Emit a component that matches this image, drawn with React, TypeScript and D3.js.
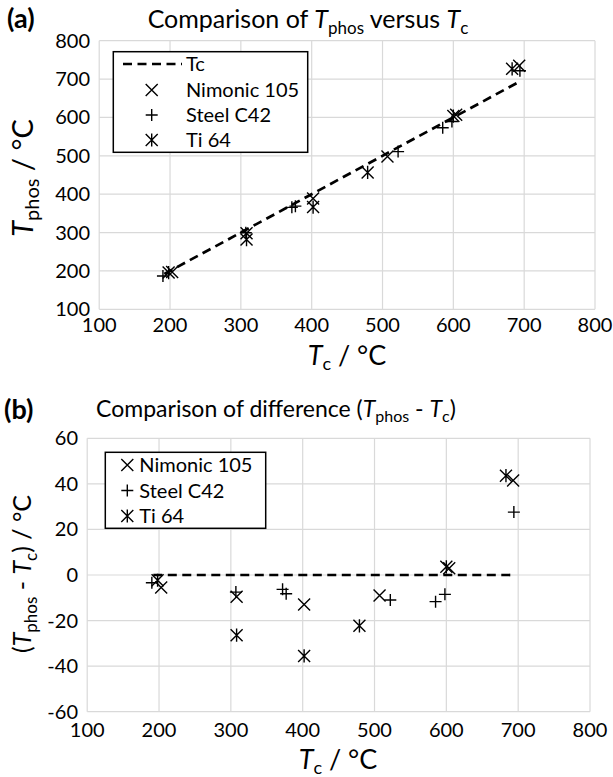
import React from "react";
import * as d3 from "d3";

// ---- data ----
const nimTc = [203, 308, 402, 507, 604, 693];
const nimTphos = [197.5, 298.5, 389, 498, 607, 734.5];
const steelTc = [190, 307, 372, 377, 522, 585, 598, 694];
const steelTphos = [186.6, 299.5, 365.7, 368.8, 511, 573.3, 589.5, 721.6];
const tiTc = [198, 308, 402, 479, 600, 683];
const tiTphos = [195.7, 281.6, 366.5, 456.7, 603.6, 726.6];
const tcLine = [192, 696];
const xTicks = [100, 200, 300, 400, 500, 600, 700, 800];
const yTicksA = [100, 200, 300, 400, 500, 600, 700, 800];
const yTicksB = [-60, -40, -20, 0, 20, 40, 60];
const seriesNames = ["Nimonic 105", "Steel C42", "Ti 64"];

type Pt = { x: number; y: number };
const FONT = "Lato, 'Open Sans', sans-serif";

function Marker({ kind, x, y, s = 6 }: { kind: number; x: number; y: number; s?: number }) {
  const parts: string[] = [];
  if (kind === 0 || kind === 2) {
    parts.push(`M${x - s},${y - s}L${x + s},${y + s}M${x - s},${y + s}L${x + s},${y - s}`);
  }
  if (kind === 1) {
    parts.push(`M${x - s},${y}L${x + s},${y}M${x},${y - s}L${x},${y + s}`);
  }
  if (kind === 2) {
    parts.push(`M${x},${y - s * 1.1}L${x},${y + s * 1.1}`);
  }
  return <path d={parts.join("")} stroke="#000" strokeWidth={1.4} fill="none" />;
}

function Panel({
  x0, x1, y0, y1, yDomain, yTicks, data, line, yLabelX, xLabelY,
}: {
  x0: number; x1: number; y0: number; y1: number; yDomain: [number, number]; yTicks: number[];
  data: Pt[][]; line: Pt[]; yLabelX: number; xLabelY: number;
}) {
  const x = d3.scaleLinear().domain([100, 800]).range([x0, x1]);
  const y = d3.scaleLinear().domain(yDomain).range([y1, y0]);
  const lineGen = d3.line<Pt>().x((d) => x(d.x)).y((d) => y(d.y));
  return (
    <g>
      {xTicks.map((t) => (
        <line key={"gx" + t} x1={x(t)} x2={x(t)} y1={y0} y2={y1} stroke="#d9d9d9" strokeWidth={1.2} />
      ))}
      {yTicks.map((t) => (
        <line key={"gy" + t} x1={x0} x2={x1} y1={y(t)} y2={y(t)} stroke="#d9d9d9" strokeWidth={1.2} />
      ))}
      {xTicks.map((t) => (
        <text key={"tx" + t} x={x(t)} y={xLabelY} textAnchor="middle" fontSize={20} fill="#000">{t}</text>
      ))}
      {yTicks.map((t) => (
        <text key={"ty" + t} x={yLabelX} y={y(t)} dy="0.35em" textAnchor="end" fontSize={20} fill="#000">{t}</text>
      ))}
      <path d={lineGen(line) || ""} stroke="#000" strokeWidth={2.7} strokeDasharray="9,5.5" fill="none" />
      {data.map((ser, k) =>
        ser.map((p, i) => <Marker key={k + "-" + i} kind={k} x={x(p.x)} y={y(p.y)} />)
      )}
    </g>
  );
}

export default function App() {
  const ptsA: Pt[][] = [
    nimTc.map((t, i) => ({ x: t, y: nimTphos[i] })),
    steelTc.map((t, i) => ({ x: t, y: steelTphos[i] })),
    tiTc.map((t, i) => ({ x: t, y: tiTphos[i] })),
  ];
  const ptsB: Pt[][] = [
    nimTc.map((t, i) => ({ x: t, y: nimTphos[i] - t })),
    steelTc.map((t, i) => ({ x: t, y: steelTphos[i] - t })),
    tiTc.map((t, i) => ({ x: t, y: tiTphos[i] - t })),
  ];
  const lineA = tcLine.map((t) => ({ x: t, y: t }));
  const lineB = tcLine.map((t) => ({ x: t, y: 0 }));

  return (
    <svg width={613} height={777} style={{ position: "absolute", left: 0, top: 0, background: "#fff" }} fontFamily={FONT}>
      <rect width={613} height={777} fill="#fff" />
      {/* Panel (a) */}
      <text x={7} y={28} fontSize={27} fontWeight="bold">(a)</text>
      <text x={308} y={28} textAnchor="middle" fontSize={25}>
        Comparison of <tspan fontStyle="italic">T</tspan>
        <tspan fontSize={17} dy={6}>phos</tspan>
        <tspan dy={-6}> versus </tspan>
        <tspan fontStyle="italic">T</tspan>
        <tspan fontSize={17} dy={6}>c</tspan>
      </text>
      <Panel x0={99.2} x1={595} y0={40.7} y1={309.3} yDomain={[100, 800]} yTicks={yTicksA}
        data={ptsA} line={lineA} yLabelX={90} xLabelY={332} />
      <text x={347} y={365} textAnchor="middle" fontSize={27}>
        <tspan fontStyle="italic">T</tspan>
        <tspan fontSize={18} dy={5}>c</tspan>
        <tspan dy={-5}> / °C</tspan>
      </text>
      <text transform="translate(33,178) rotate(-90)" textAnchor="middle" fontSize={29}>
        <tspan fontStyle="italic">T</tspan>
        <tspan fontSize={20} dy={6}>phos</tspan>
        <tspan dy={-6}> / °C</tspan>
      </text>
      {/* legend a */}
      <rect x={113.3} y={51.7} width={194.4} height={100.6} fill="#fff" stroke="#000" strokeWidth={1.5} />
      <line x1={123} x2={182} y1={64} y2={64} stroke="#000" strokeWidth={2.7} strokeDasharray="9,5.5" />
      <text x={186} y={64} dy="0.35em" fontSize={20}>Tc</text>
      {seriesNames.map((n, i) => (
        <g key={n}>
          <Marker kind={i} x={151.7} y={90 + i * 25} />
          <text x={186} y={90 + i * 25} dy="0.35em" fontSize={20}>{n}</text>
        </g>
      ))}

      {/* Panel (b) */}
      <text x={4} y={419} fontSize={27} fontWeight="bold">(b)</text>
      <text x={276} y={417} textAnchor="middle" fontSize={23}>
        Comparison of difference (<tspan fontStyle="italic">T</tspan>
        <tspan fontSize={16} dy={5}>phos</tspan>
        <tspan dy={-5}> - </tspan>
        <tspan fontStyle="italic">T</tspan>
        <tspan fontSize={16} dy={5}>c</tspan>
        <tspan dy={-5}>)</tspan>
      </text>
      <Panel x0={87.2} x1={590} y0={438.3} y1={711.7} yDomain={[-60, 60]} yTicks={yTicksB}
        data={ptsB} line={lineB} yLabelX={78} xLabelY={737} />
      <text x={338} y={769} textAnchor="middle" fontSize={27}>
        <tspan fontStyle="italic">T</tspan>
        <tspan fontSize={18} dy={5}>c</tspan>
        <tspan dy={-5}> / °C</tspan>
      </text>
      <text transform="translate(31,574) rotate(-90)" textAnchor="middle" fontSize={25}>
        (<tspan fontStyle="italic">T</tspan>
        <tspan fontSize={17} dy={6}>phos</tspan>
        <tspan dy={-6}> - </tspan>
        <tspan fontStyle="italic">T</tspan>
        <tspan fontSize={17} dy={6}>c</tspan>
        <tspan dy={-6}>) / °C</tspan>
      </text>
      {/* legend b */}
      <rect x={105.3} y={452.3} width={160.4} height={76} fill="#fff" stroke="#000" strokeWidth={1.5} />
      {seriesNames.map((n, i) => (
        <g key={n}>
          <Marker kind={i} x={127.3} y={465 + i * 25.5} />
          <text x={139.3} y={465 + i * 25.5} dy="0.35em" fontSize={20}>{n}</text>
        </g>
      ))}
    </svg>
  );
}
